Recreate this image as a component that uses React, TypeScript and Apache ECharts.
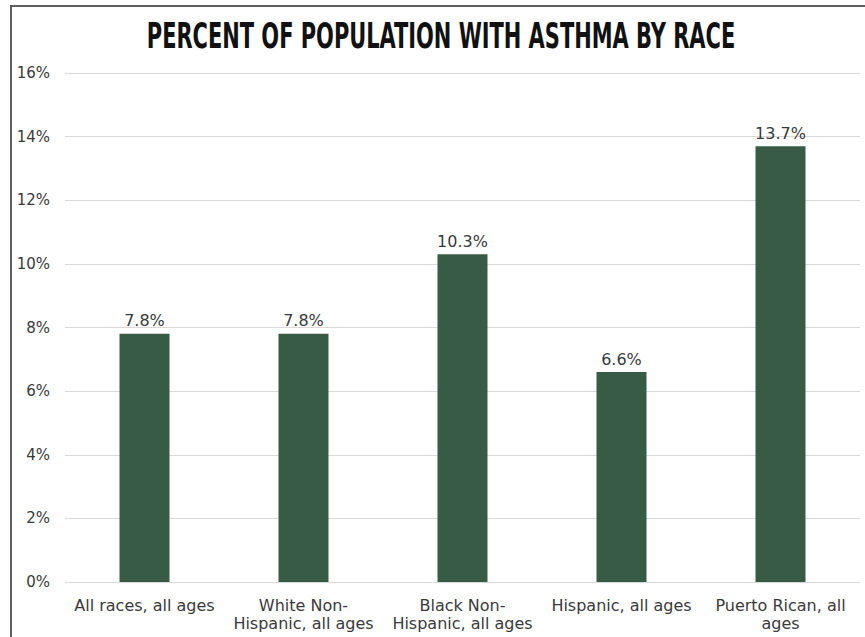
import React, { useEffect, useRef } from "react";
import * as echarts from "echarts";

const TITLE = "PERCENT OF POPULATION WITH ASTHMA BY RACE";
const categories = [
  "All races, all ages",
  "White Non-\nHispanic, all ages",
  "Black Non-\nHispanic, all ages",
  "Hispanic, all ages",
  "Puerto Rican, all\nages",
];
const values = [7.8, 7.8, 10.3, 6.6, 13.7];
const yMin = 0;
const yMax = 16;
const yStep = 2;

export default function App() {
  const ref = useRef<HTMLDivElement>(null);
  useEffect(() => {
    if (!ref.current) return;
    const chart = echarts.init(ref.current, null, { renderer: "svg" });
    const labelFont = "'DejaVu Sans', Verdana, sans-serif";
    chart.setOption({
      animation: false,
      backgroundColor: "#ffffff",
      graphic: [
        {
          type: "rect",
          shape: { x: 11, y: 6, width: 900, height: 700 },
          style: { fill: "none", stroke: "#5e5e5e", lineWidth: 2 },
          silent: true,
        },
        {
          type: "text",
          x: 441,
          y: 36,
          scaleX: 0.647,
          style: {
            text: TITLE,
            fill: "#111111",
            font: "bold 36px 'DejaVu Sans Condensed', 'DejaVu Sans', sans-serif",
            textAlign: "center",
            textVerticalAlign: "middle",
          },
        },
      ],
      grid: { left: 65, right: 5, top: 73, bottom: 637 - 582, containLabel: false },
      xAxis: {
        type: "category",
        data: categories,
        axisLine: { show: false },
        axisTick: { show: false },
        axisLabel: {
          interval: 0,
          color: "#3a3a3a",
          fontFamily: labelFont,
          fontSize: 16,
          lineHeight: 18,
          margin: 14,
        },
      },
      yAxis: {
        type: "value",
        min: yMin,
        max: yMax,
        interval: yStep,
        axisLine: { show: false },
        axisTick: { show: false },
        splitLine: { lineStyle: { color: "#d9d9d9", width: 1 } },
        axisLabel: {
          formatter: (v: number) => v + "%",
          color: "#3a3a3a",
          fontFamily: labelFont,
          fontSize: 15,
          margin: 15,
        },
      },
      series: [
        {
          type: "bar",
          data: values,
          barWidth: 50,
          itemStyle: { color: "#385b45" },
          label: {
            show: true,
            position: "top",
            distance: 5,
            formatter: (p: any) => p.value + "%",
            color: "#3a3a3a",
            fontFamily: labelFont,
            fontSize: 16,
          },
        },
      ],
    });
    return () => chart.dispose();
  }, []);
  return (
    <div
      ref={ref}
      style={{ position: "fixed", left: 0, top: 0, width: 865, height: 637 }}
    />
  );
}
